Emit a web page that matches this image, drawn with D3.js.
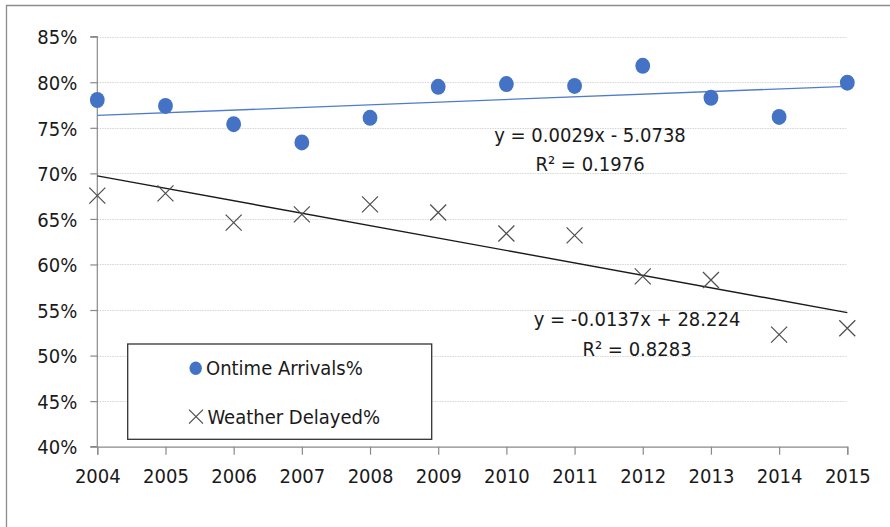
<!DOCTYPE html>
<html lang="en">
<head>
  <meta charset="UTF-8">
  <title>Ontime Arrivals vs Weather Delayed</title>
  <script src="https://d3js.org/d3.v7.min.js"></script>
  <style>
    html, body { margin: 0; padding: 0; background: #fff; }
    svg { display: block; }
    text { font-family: "Liberation Sans Narrow", "DejaVu Sans Condensed", sans-serif; font-stretch: condensed; fill: #1a1a1a; }
  </style>
</head>
<body>
  <div id="chart"></div>
  <script>
    // Data
    const years = [2004, 2005, 2006, 2007, 2008, 2009, 2010, 2011, 2012, 2013, 2014, 2015];
    const ontime = [0.7805, 0.774, 0.754, 0.734, 0.761, 0.795, 0.798, 0.796, 0.818, 0.783, 0.762, 0.7995];
    const weather = [0.6755, 0.678, 0.646, 0.655, 0.666, 0.657, 0.634, 0.632, 0.587, 0.583, 0.523, 0.530];
    const yTicks = [0.40, 0.45, 0.50, 0.55, 0.60, 0.65, 0.70, 0.75, 0.80, 0.85];
    const seriesNames = ["Ontime Arrivals%", "Weather Delayed%"];
    const eqOntime = ["y = 0.0029x - 5.0738", "R\u00b2 = 0.1976"];
    const eqWeather = ["y = -0.0137x + 28.224", "R\u00b2 = 0.8283"];

    const width = 890, height = 527;
    const fontSize = 20;
    const svg = d3.select("#chart").append("svg").attr("width", width).attr("height", height);

    const x = d3.scaleLinear().domain([2004, 2015]).range([97.3, 847.3]);
    const y = d3.scaleLinear().domain([0.40, 0.85]).range([446.7, 36.7]);

    // outer chart border (top and left visible)
    svg.append("path")
      .attr("d", "M6.5,527 V5.5 H890")
      .attr("fill", "none")
      .attr("stroke", "#8c8c8c")
      .attr("stroke-width", 1.3);

    // gridlines
    svg.selectAll(".grid")
      .data(yTicks.slice(1))
      .enter()
      .append("line")
      .attr("x1", x(2004)).attr("x2", x(2015))
      .attr("y1", d => Math.round(y(d)) + 0.5).attr("y2", d => Math.round(y(d)) + 0.5)
      .attr("stroke", "#d6d6d6")
      .attr("stroke-width", 1.2)
      .attr("stroke-dasharray", "1.5,1");

    // axes
    const yAxis = d3.axisLeft(y).tickValues(yTicks).tickFormat(d3.format(".0%")).tickSize(7).tickPadding(13);
    const gy = svg.append("g").attr("transform", `translate(${x(2004)},0)`).call(yAxis);
    const xAxis = d3.axisBottom(x).tickValues(years).tickFormat(d3.format("d")).tickSize(8).tickPadding(14);
    const gx = svg.append("g").attr("transform", `translate(0,${y(0.40)})`).call(xAxis);
    [gx, gy].forEach(g => {
      g.select(".domain").attr("stroke", "#8a8a8a").attr("stroke-width", 1.2);
      g.selectAll(".tick line").attr("stroke", "#8a8a8a").attr("stroke-width", 1.2);
      g.selectAll(".tick text")
        .attr("font-size", fontSize)
        .style("font-family", '"Liberation Sans Narrow", "DejaVu Sans Condensed", sans-serif')
        .attr("fill", "#1a1a1a");
    });
    gy.select(".domain").attr("d", `M-7,${y(0.85)}H0V${y(0.40)}H-7`);
    gy.selectAll(".tick text").attr("dy", "0.36em");

    // linear trend lines, fitted to the data
    function fit(xs, ys) {
      const mx = d3.mean(xs), my = d3.mean(ys);
      const b = d3.sum(xs, (v, i) => (v - mx) * (ys[i] - my)) / d3.sum(xs, v => (v - mx) * (v - mx));
      return v => my + b * (v - mx);
    }
    const fOn = fit(years, ontime);
    const fWe = fit(years, weather);
    svg.append("line")
      .attr("x1", x(2004)).attr("y1", y(fOn(2004)))
      .attr("x2", x(2015)).attr("y2", y(fOn(2015)))
      .attr("stroke", "#4f7ccc").attr("stroke-width", 1.3);
    svg.append("line")
      .attr("x1", x(2004)).attr("y1", y(fWe(2004)))
      .attr("x2", x(2015)).attr("y2", y(fWe(2015)))
      .attr("stroke", "#1a1a1a").attr("stroke-width", 1.4);

    // markers
    const xMark = (cx, cy, s) => `M${cx - s},${cy - s}L${cx + s},${cy + s}M${cx - s},${cy + s}L${cx + s},${cy - s}`;
    svg.selectAll(".wx")
      .data(years)
      .enter()
      .append("path")
      .attr("d", (d, i) => xMark(x(d), y(weather[i]), 8))
      .attr("stroke", "#4d4d4d")
      .attr("stroke-width", 1.2)
      .attr("fill", "none");
    svg.selectAll(".on")
      .data(years)
      .enter()
      .append("ellipse")
      .attr("cx", d => x(d))
      .attr("cy", (d, i) => y(ontime[i]))
      .attr("rx", 7.4).attr("ry", 8)
      .attr("fill", "#4472c4");

    // trendline equations
    const eqs = [
      { lines: eqOntime, cx: 590, base: 141.5 },
      { lines: eqWeather, cx: 637, base: 326 }
    ];
    eqs.forEach(e => {
      svg.selectAll(null)
        .data(e.lines)
        .enter()
        .append("text")
        .attr("x", e.cx)
        .attr("y", (d, i) => e.base + i * 29.5)
        .attr("text-anchor", "middle")
        .attr("font-size", fontSize)
        .text(d => d);
    });

    // legend
    const lg = svg.append("g");
    lg.append("rect")
      .attr("x", 127.7).attr("y", 344).attr("width", 304).attr("height", 95.3)
      .attr("fill", "#fff").attr("stroke", "#333").attr("stroke-width", 1.3);
    lg.append("ellipse").attr("cx", 195.7).attr("cy", 368.3).attr("rx", 6.2).attr("ry", 6.8).attr("fill", "#4472c4");
    lg.append("path").attr("d", xMark(196, 416.7, 7)).attr("stroke", "#4d4d4d").attr("stroke-width", 1.2).attr("fill", "none");
    lg.selectAll("text")
      .data(seriesNames)
      .enter()
      .append("text")
      .attr("x", (d, i) => i === 0 ? 206 : 207.5)
      .attr("y", (d, i) => i === 0 ? 375 : 423.5)
      .attr("font-size", fontSize)
      .text(d => d);
  </script>
</body>
</html>
